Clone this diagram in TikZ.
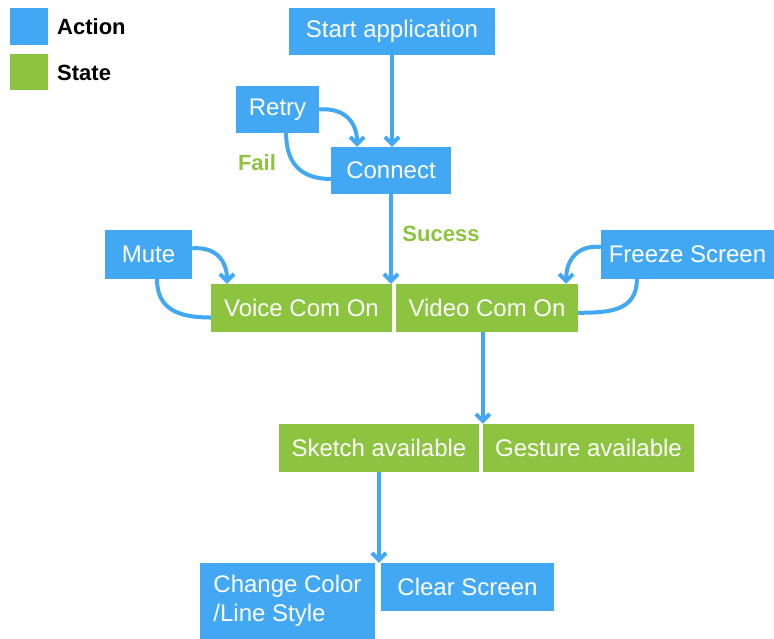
\documentclass[tikz,border=0pt]{standalone}
\usepackage{fontspec}
\setmainfont{Liberation Sans}
\usetikzlibrary{arrows.meta}
\definecolor{actblue}{HTML}{42A8F4}
\definecolor{stategreen}{HTML}{8CC43F}

\begin{document}
\begin{tikzpicture}[x=1pt, y=-1pt,
  box/.style={inner sep=0pt, text=white, font=\fontsize{24}{29}\selectfont},
  action/.style={box, fill=actblue},
  state/.style={box, fill=stategreen},
  flow/.style={draw=actblue, line width=4pt, -{Straight Barb[length=7pt,width=14pt]}},
  back/.style={draw=actblue, line width=4pt},
  keytext/.style={anchor=west, inner sep=0pt, font=\bfseries\fontsize{22}{26}\selectfont},
  tag/.style={inner sep=0pt, text=stategreen, font=\bfseries\fontsize{22}{26}\selectfont}]
\useasboundingbox (0,0) rectangle (774,639);

\node (actkey)[action, minimum width=38, minimum height=37] at (29,26.5) {};
\node (statekey)[state, minimum width=38, minimum height=36] at (29,72) {};
\node (actlabel)[keytext] at (57,27) {Action};
\node (statelabel)[keytext] at (57,73) {State};

\node (start)[action, minimum width=206, minimum height=47] at (392,31.5) {Start application};
\node (retry)[action, minimum width=83, minimum height=47] at (277.5,109.5) {Retry};
\node (connect)[action, minimum width=120, minimum height=47] at (391,170.5) {Connect};
\node (mute)[action, minimum width=87, minimum height=49] at (148.5,254.5) {Mute};
\node (voice)[state, minimum width=181, minimum height=48] at (301.5,308) {Voice Com On};
\node (video)[state, minimum width=182, minimum height=48] at (487,308) {Video Com On};
\node (freeze)[action, minimum width=173, minimum height=49] at (687.5,254.5) {Freeze Screen};
\node (sketch)[state, minimum width=200, minimum height=48] at (379,448) {Sketch available};
\node (gesture)[state, minimum width=211, minimum height=48] at (588.5,448) {Gesture available};
\node (change)[action, minimum width=175, minimum height=76, align=left] at (287.5,601) {Change Color\\/Line Style};
\node (clear)[action, minimum width=173, minimum height=48] at (467.5,587) {Clear Screen};

\node (fail)[tag] at (257,163) {Fail};
\node (sucess)[tag] at (441,234) {Sucess};

\draw[flow] (start.south) -- (start.south |- connect.north);
\draw[flow] (connect.south) -- (connect.south |- voice.north);
\draw[flow] (gesture.north west |- video.south) -- (gesture.north west);
\draw[flow] (sketch.south) -- (sketch.south |- change.north);

\draw[flow] (retry.east) to[out=5, in=90, looseness=1.2] (connect.145);
\draw[back] (retry.290) to[out=-90, in=180, looseness=1.2] (connect.188);
\draw[flow] (mute.8) to[out=5, in=90, looseness=1.2] (voice.162);
\draw[back] (mute.289) to[out=-90, in=180, looseness=1.2] (voice.186);
\draw[flow] (freeze.175) to[out=175, in=90, looseness=1.2] (video.17);
\draw[back] (freeze.206) to[out=-90, in=0, looseness=1.2] (video.357);

\end{tikzpicture}
\end{document}
